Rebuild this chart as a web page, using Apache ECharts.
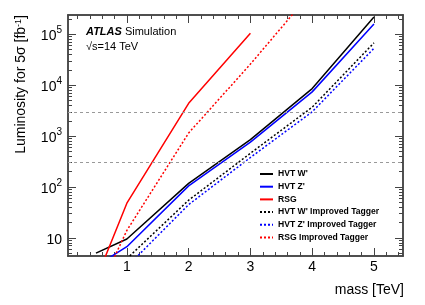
<!DOCTYPE html>
<html>
<head>
<meta charset="utf-8">
<script src="https://cdn.jsdelivr.net/npm/echarts@6/dist/echarts.min.js"></script>
<style>html,body{margin:0;padding:0;background:#fff;}#c{width:425px;height:305px;}</style>
</head>
<body>
<div id="c"></div>
<script>
// ---- data ----
const hvtW = [[0.5, 5.0], [1, 9.5], [2, 118], [3, 850], [4, 8600], [5, 220000]];
const hvtZ = [[0.5, 2.8], [1, 6.7], [2, 105], [3, 760], [4, 7400], [5, 160000]];
const rsg = [[0.5, 1.5], [1, 48], [2, 4400], [3, 105000]];
const hvtWImp = [[1, 3.9], [2, 55], [3, 460], [4, 3700], [5, 68000]];
const hvtZImp = [[1, 2.7], [2, 45], [3, 380], [4, 3000], [5, 53000]];
const rsgImp = [[0.5, 0.7], [1, 14], [2, 1150], [3, 26000], [4, 700000]];
const seriesNames = ["HVT W'", "HVT Z'", "RSG", "HVT W' Improved Tagger", "HVT Z' Improved Tagger", "RSG Improved Tagger"];
const refLines = [300, 3000];
const xTicks = [1, 2, 3, 4, 5];
const xTickLabels = ['1', '2', '3', '4', '5'];
const xMinorTicks = [0.2, 0.4, 0.6, 0.8, 1.2, 1.4, 1.6, 1.8, 2.2, 2.4, 2.6, 2.8, 3.2, 3.4, 3.6, 3.8, 4.2, 4.4, 4.6, 4.8, 5.2, 5.4];
const yTicks = [10, 100, 1000, 10000, 100000];
const yTickLabels = ['{b|10}', '{b|10}{s|2}', '{b|10}{s|3}', '{b|10}{s|4}', '{b|10}{s|5}'];
const yMinorTicks = [5, 6, 7, 8, 9, 20, 30, 40, 50, 60, 70, 80, 90, 200, 300, 400, 500, 600, 700, 800, 900,
  2000, 3000, 4000, 5000, 6000, 7000, 8000, 9000, 20000, 30000, 40000, 50000, 60000, 70000, 80000, 90000, 200000];

const X_MIN = 0.047, X_MAX = 5.47, Y_MIN = 4.4, Y_MAX = 240000;
const FONT = 'Liberation Sans, Arial, Helvetica, sans-serif';
const frame = { show: true, lineStyle: { color: '#444', width: 1.5 } };

function xAx(pos, ticks, len, labels) {
  return {
    type: 'value', position: pos, min: X_MIN, max: X_MAX,
    axisLine: frame, splitLine: { show: false },
    axisTick: { show: true, inside: true, length: len, customValues: ticks, lineStyle: { color: '#444', width: 1 } },
    axisLabel: labels ? {
      show: true, customValues: xTicks, margin: 4, color: '#000', fontSize: 14, fontFamily: FONT,
      formatter: v => xTickLabels[xTicks.indexOf(Math.round(v))] || ''
    } : { show: false }
  };
}
function yAx(pos, ticks, len, labels) {
  return {
    type: 'log', logBase: 10, position: pos, min: Y_MIN, max: Y_MAX,
    axisLine: frame, splitLine: { show: false }, minorTick: { show: false },
    axisTick: { show: true, inside: true, length: len, customValues: ticks, lineStyle: { color: '#444', width: 1 } },
    axisLabel: labels ? {
      show: true, customValues: yTicks, margin: 6, color: '#000', fontFamily: FONT,
      formatter: v => {
        let i = yTicks.findIndex(t => Math.abs(Math.log10(t) - Math.log10(v)) < 0.01);
        return i >= 0 ? yTickLabels[i] : '';
      },
      rich: {
        b: { fontSize: 14, fontFamily: FONT, color: '#000', lineHeight: 18, verticalAlign: 'bottom' },
        s: { fontSize: 10, fontFamily: FONT, color: '#000', lineHeight: 18, verticalAlign: 'top' }
      }
    } : { show: false }
  };
}

const colors = ['#000000', '#0000ff', '#ff0000', '#000000', '#0000ff', '#ff0000'];
const datas = [hvtW, hvtZ, rsg, hvtWImp, hvtZImp, rsgImp];
const series = datas.map((d, i) => ({
  name: seriesNames[i], type: 'line', data: d, xAxisIndex: 0, yAxisIndex: 0,
  symbol: 'none', showSymbol: false, clip: true, smooth: false,
  lineStyle: { color: colors[i], width: 1.5, type: i < 3 ? 'solid' : [2, 2] },
  itemStyle: { color: colors[i] },
  z: 3
}));
series[0].markLine = {
  silent: true, symbol: 'none', animation: false,
  label: { show: false },
  lineStyle: { color: '#999', width: 1, type: [3, 3] },
  data: refLines.map(v => ({ yAxis: v }))
};

const chart = echarts.init(document.getElementById('c'), null, { renderer: 'canvas' });
chart.setOption({
  animation: false,
  backgroundColor: '#fff',
  grid: { left: 68, top: 15, width: 335, height: 241, containLabel: false },
  xAxis: [
    xAx('bottom', xTicks, 8, true),
    xAx('bottom', xMinorTicks, 4, false),
    xAx('top', xTicks, 8, false),
    xAx('top', xMinorTicks, 4, false)
  ],
  yAxis: [
    yAx('left', yTicks, 8, true),
    yAx('left', yMinorTicks, 4, false),
    yAx('right', yTicks, 8, false),
    yAx('right', yMinorTicks, 4, false)
  ],
  legend: {
    orient: 'vertical', left: 259, top: 169, padding: 0,
    itemWidth: 13, itemHeight: 10, itemGap: 2.7,
    data: seriesNames,
    itemStyle: { opacity: 0 },
    lineStyle: { width: 2 },
    textStyle: { fontSize: 8.6, fontWeight: 'bold', fontFamily: FONT, color: '#000', lineHeight: 10 }
  },
  graphic: [
    { type: 'text', left: 86, top: 26, style: { text: '{a|ATLAS} Simulation', font: '11px ' + FONT, fill: '#000',
      rich: { a: { fontWeight: 'bold', fontStyle: 'italic', fontSize: 11, fontFamily: FONT } } } },
    { type: 'text', left: 86, top: 41, style: { text: '√s=14 TeV', font: '11px ' + FONT, fill: '#000' } },
    { type: 'text', x: 21, y: 15, rotation: Math.PI / 2,
      style: { text: 'Luminosity for 5σ [fb{s|-1}]', font: '14px ' + FONT, fill: '#000', align: 'right', verticalAlign: 'middle',
        rich: { s: { fontSize: 9, verticalAlign: 'top', fontFamily: FONT } } } },
    { type: 'text', x: 404, y: 290, style: { text: 'mass [TeV]', font: '14px ' + FONT, fill: '#000', align: 'right', verticalAlign: 'middle' } }
  ],
  series: series
});
</script>
</body>
</html>
